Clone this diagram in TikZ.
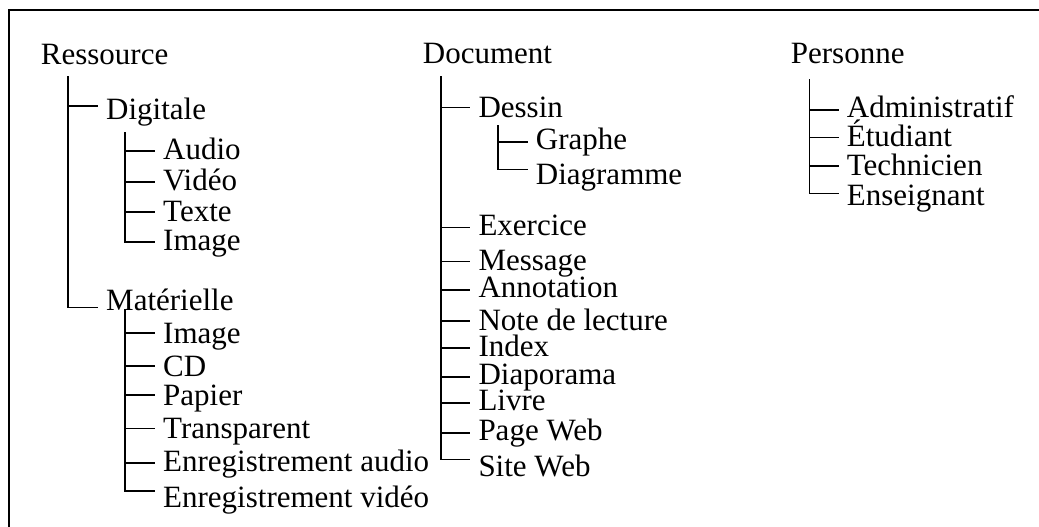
\documentclass[tikz,border=0pt]{standalone}
\usepackage{fontspec}
\setmainfont{Liberation Serif}
\begin{document}
\begin{tikzpicture}[x=1pt,y=-1pt,
  lbl/.style={anchor=base west, inner ysep=0pt, inner xsep=9pt, font=\fontsize{31}{33}\selectfont},
  tree/.style={line width=1.6pt, line cap=rect}]
\useasboundingbox (0,0) rectangle (1039,527);
\draw[line width=1.5pt] (9,527) |- (1039,10);
% Ressource
\node[lbl] (res) at (31.7,64.5) {Ressource};
\node[lbl] (dig) at (97,119) {Digitale};
\node[lbl] (aud) at (154,159.5) {Audio};
\node[lbl] (vid) at (154,190.5) {Vidéo};
\node[lbl] (tex) at (154,221) {Texte};
\node[lbl] (ima) at (154,250.5) {Image};
\node[lbl] (mat) at (97,310) {Matérielle};
\node[lbl] (mim) at (154,343) {Image};
\node[lbl] (cd) at (154,376) {CD};
\node[lbl] (pap) at (154,405) {Papier};
\node[lbl] (tra) at (154,438) {Transparent};
\node[lbl] (ea) at (154,471.5) {Enregistrement audio};
\node[lbl] (ev) at (154,507) {Enregistrement vidéo};
\coordinate (rv) at (68,77);
\draw[tree] (rv) |- (mat.west |- 0,307.3);
\draw[tree] (68,106) -- (dig.west |- 0,106);
\coordinate (dv) at (125,133);
\draw[tree] (dv) |- (ima.west |- 0,242);
\draw[tree] (125,151) -- (aud.west |- 0,151);
\draw[tree] (125,181.7) -- (vid.west |- 0,181.7);
\draw[tree] (125,212) -- (tex.west |- 0,212);
\coordinate (mv) at (125,310);
\draw[tree] (mv) |- (ev.west |- 0,490.7);
\draw[tree] (125,332.7) -- (mim.west |- 0,332.7);
\draw[tree] (125,366) -- (cd.west |- 0,366);
\draw[tree] (125,395) -- (pap.west |- 0,395);
\draw[tree] (125,428.3) -- (tra.west |- 0,428.3);
\draw[tree] (125,462.7) -- (ea.west |- 0,462.7);
% Document
\node[lbl] (doc) at (413.7,63.3) {Document};
\node[lbl] (des) at (469.3,117.3) {Dessin};
\node[lbl] (gra) at (526.7,149.3) {Graphe};
\node[lbl] (dia) at (526.7,184) {Diagramme};
\node[lbl] (exe) at (469.3,235) {Exercice};
\node[lbl] (mes) at (469.3,270.7) {Message};
\node[lbl] (ann) at (469.3,297.7) {Annotation};
\node[lbl] (not) at (469.3,330) {Note de lecture};
\node[lbl] (ind) at (469.3,356.7) {Index};
\node[lbl] (dpo) at (469.3,384.3) {Diaporama};
\node[lbl] (liv) at (469.3,410.7) {Livre};
\node[lbl] (pag) at (469.3,440) {Page Web};
\node[lbl] (sit) at (469.3,476.7) {Site Web};
\coordinate (dcv) at (441,76.5);
\draw[tree] (dcv) |- (sit.west |- 0,459.3);
\draw[tree] (441,107.5) -- (des.west |- 0,107.5);
\draw[tree] (441,227.3) -- (exe.west |- 0,227.3);
\draw[tree] (441,261.5) -- (mes.west |- 0,261.5);
\draw[tree] (441,290) -- (ann.west |- 0,290);
\draw[tree] (441,320.7) -- (not.west |- 0,320.7);
\draw[tree] (441,347.7) -- (ind.west |- 0,347.7);
\draw[tree] (441,376.7) -- (dpo.west |- 0,376.7);
\draw[tree] (441,402.7) -- (liv.west |- 0,402.7);
\draw[tree] (441,432.7) -- (pag.west |- 0,432.7);
\coordinate (dsv) at (497.7,126);
\draw[tree] (dsv) |- (dia.west |- 0,169.3);
\draw[tree] (497.7,141.7) -- (gra.west |- 0,141.7);
% Personne
\node[lbl] (per) at (781.7,63.3) {Personne};
\node[lbl] (adm) at (837.7,117.3) {Administratif};
\node[lbl] (etu) at (837.7,146.7) {Étudiant};
\node[lbl] (tec) at (837.7,175.7) {Technicien};
\node[lbl] (ens) at (837.7,205) {Enseignant};
\coordinate (pv) at (809.3,80);
\draw[tree] (pv) |- (ens.west |- 0,193.3);
\draw[tree] (809.3,110) -- (adm.west |- 0,110);
\draw[tree] (809.3,137.3) -- (etu.west |- 0,137.3);
\draw[tree] (809.3,165.7) -- (tec.west |- 0,165.7);
\end{tikzpicture}
\end{document}
